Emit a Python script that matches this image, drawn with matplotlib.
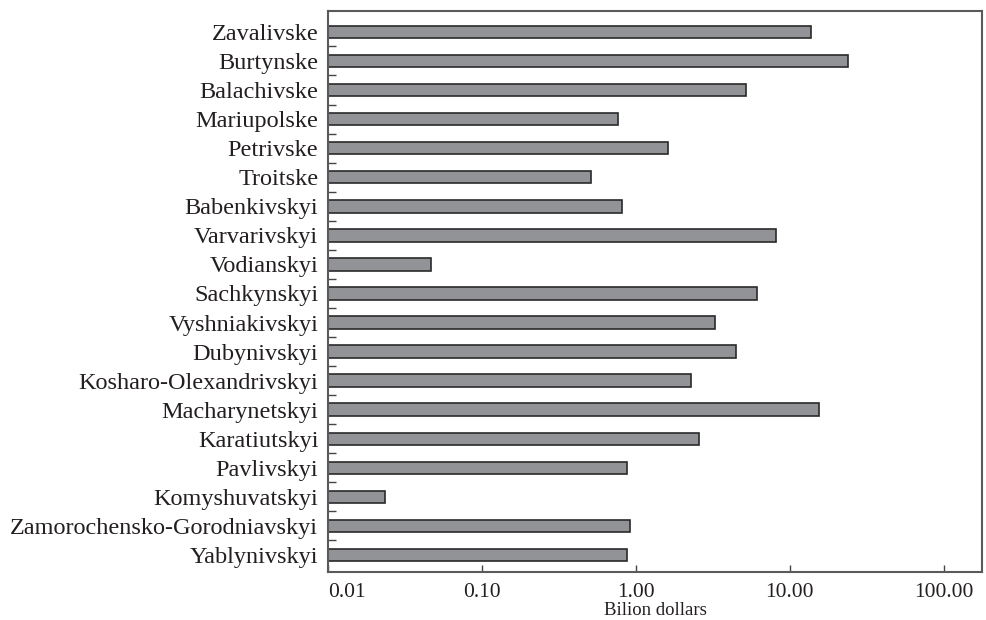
import numpy as np
import matplotlib.pyplot as plt
from matplotlib.ticker import FixedLocator, NullLocator

# values (billion dollars), top to bottom
districts = [
    "Zavalivske", "Burtynske", "Balachivske", "Mariupolske", "Petrivske",
    "Troitske", "Babenkivskyi", "Varvarivskyi", "Vodianskyi", "Sachkynskyi",
    "Vyshniakivskyi", "Dubynivskyi", "Kosharo-Olexandrivskyi", "Macharynetskyi",
    "Karatiutskyi", "Pavlivskyi", "Komyshuvatskyi",
    "Zamorochensko-Gorodniavskyi", "Yablynivskyi",
]
values = [
    13.7, 24.0, 5.19, 0.76, 1.62,
    0.514, 0.81, 8.13, 0.0464, 6.12,
    3.25, 4.47, 2.27, 15.4,
    2.58, 0.873, 0.0233,
    0.916, 0.873,
]
xticks = [0.01, 0.1, 1, 10, 100]
xticklabels = ["0.01", "0.10", "1.00", "10.00", "100.00"]

plt.rcParams['font.family'] = ['Liberation Serif', 'DejaVu Serif']
txt = '#231f20'

fig = plt.figure(figsize=(9.86, 6.2), dpi=100)
ax = fig.add_axes([0.3327, 0.0774, 0.9962 - 0.3327, 0.9823 - 0.0774])

x0 = 0.01
y = np.arange(len(districts))
vals = np.array(values)
ax.barh(y, vals - x0, left=x0, height=0.43, color='#929396',
        edgecolor='#2a2a2a', linewidth=1.2)

ax.set_xscale('log')
ax.set_xlim(x0, 178)
ax.set_ylim(len(districts) - 1 + 0.585, -0.72)

ax.xaxis.set_major_locator(FixedLocator(xticks))
ax.xaxis.set_minor_locator(NullLocator())
ax.set_xticklabels(xticklabels)
ax.get_xticklabels()[0].set_ha('left')

ax.set_yticks(y)
ax.set_yticklabels(districts)
ax.set_yticks(y[:-1] + 0.5, minor=True)

ax.tick_params(axis='x', direction='in', length=5, width=1, color='#444444',
               labelsize=15.5, labelcolor=txt, pad=8)
ax.tick_params(axis='y', which='major', length=0, labelsize=17.5,
               labelcolor=txt, pad=7)
ax.tick_params(axis='y', which='minor', direction='in', length=6, width=1,
               color='#444444')

for s in ax.spines.values():
    s.set_color('#5a5a5a')
    s.set_linewidth(1.5)

ax.set_xlabel('Bilion dollars', fontsize=13.5, color=txt, labelpad=0)

fig.savefig('out.png', dpi=100)
